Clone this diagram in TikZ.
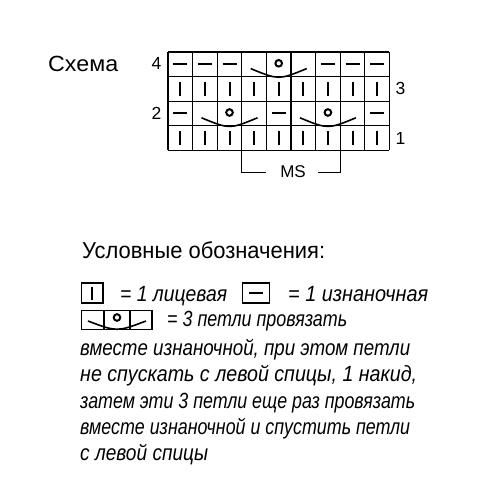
\documentclass[tikz,border=0pt]{standalone}
\usepackage{fontspec}
\setmainfont{Liberation Sans}
\newcommand\fsz[1]{\fontsize{#1}{#1}\selectfont}
\newsavebox\fitbox
\newcommand\fitto[2]{\sbox\fitbox{#2}\pgfmathsetmacro\fitratio{#1/(\wd\fitbox)}\scalebox{\fitratio}[1]{\usebox\fitbox}}
\begin{document}
\begin{tikzpicture}[x=1pt,y=-1pt,
  gridline/.style={line width=1.1pt},
  sym/.style={line width=2pt},
  arcsym/.style={line width=1.6pt},
  txt/.style={inner sep=0pt, anchor=base west},
  legtxt/.style={inner sep=0pt, anchor=base west, font=\fsz{22}\itshape},
]
\useasboundingbox (0,0) rectangle (500,500);
\fill[white] (0,0) rectangle (500,500);
\def\L{168}\def\T{52}\def\C{24.6}
% grid
\foreach \i in {0,...,9} \draw[gridline] ({\L+\i*\C},\T) -- ({\L+\i*\C},{\T+4*\C});
\foreach \j in {0,...,4} \draw[gridline] (\L,{\T+\j*\C}) -- ({\L+9*\C},{\T+\j*\C});
% bars rows 1 and 3
\foreach \r in {1,3} \foreach \i in {1,...,9}
  \draw[sym] ({\L+(\i-0.5)*\C},{\T+(\r+0.5)*\C-7}) -- ++(0,14);
% dashes row 4
\foreach \i in {1,2,3,7,8,9}
  \draw[sym] ({\L+(\i-0.5)*\C-7},{\T+0.5*\C}) -- ++(14,0);
% dashes row 2
\foreach \i in {1,5,9}
  \draw[sym] ({\L+(\i-0.5)*\C-7},{\T+2.5*\C}) -- ++(14,0);
% arcs with circles
\foreach \c/\r in {5/0,3/2,7/2}{
  \pgfmathsetmacro\xc{\L+(\c-0.5)*\C}
  \pgfmathsetmacro\yb{\T+(\r+1)*\C}
  \pgfmathsetmacro\yc{\T+(\r+0.5)*\C}
  \draw[arcsym] ({\xc-28},{\yb-8}) .. controls (\xc,{\yb+3.5}) .. ({\xc+28},{\yb-8});
  \draw[sym] (\xc,{\yc-1}) circle (3.3);
}
% labels
\node[txt, font=\fsz{22}] (schema) at (48,72) {\fitto{70}{Схема}};
\node[txt, font=\fsz{17.5}] (r4) at (151.5,70) {4};
\node[txt, font=\fsz{17.5}] (r3) at (395.5,95) {3};
\node[txt, font=\fsz{17.5}] (r2) at (151.5,119.5) {2};
\node[txt, font=\fsz{17.5}] (r1) at (395.5,144) {1};
% MS bracket
\node[inner sep=0pt, anchor=base, font=\fsz{17}] (ms) at (293,177) {MS};
\coordinate (msl) at ({\L+3*\C},{\T+4*\C});
\coordinate (msr) at ({\L+7*\C},{\T+4*\C});
\draw[line width=1.1pt] (msl) -- ++(0,22) -- (266,{\T+4*\C+22});
\draw[line width=1.1pt] (318,{\T+4*\C+22}) -- ({\L+7*\C},{\T+4*\C+22}) -- (msr);
% legend title
\node[txt, font=\fsz{23}] (title) at (82,258) {\fitto{243}{Условные обозначения:}};
% legend symbols
\draw[gridline] (81.5,283) rectangle (103,303);
\draw[sym] (92.25,286.5) -- (92.25,299.5);
\node[legtxt] (k1) at (120,301) {\fitto{107}{= 1 лицевая}};
\draw[gridline] (242.5,283) rectangle (269.5,303);
\draw[sym] (249,293) -- (263,293);
\node[legtxt] (k2) at (288,301) {\fitto{140}{= 1 изнаночная}};
\draw[gridline] (81.5,310.5) rectangle (152,329.5);
\draw[gridline] (104,310.5) -- (104,329.5);
\draw[gridline] (130,310.5) -- (130,329.5);
\draw[arcsym] (88,321) .. controls (117,332) .. (146,321);
\draw[sym] (117,317.5) circle (3.3);
\node[legtxt] (k3) at (167,326) {\fitto{180}{= 3 петли провязать}};
\node[legtxt] (l1) at (80,355) {\fitto{330}{вместе изнаночной, при этом петли}};
\node[legtxt] (l2) at (80,381.5) {\fitto{337}{не спускать с левой спицы, 1 накид,}};
\node[legtxt] (l3) at (80,408) {\fitto{335}{затем эти 3 петли еще раз провязать}};
\node[legtxt] (l4) at (80,434) {\fitto{330}{вместе изнаночной и спустить петли}};
\node[legtxt] (l5) at (80,460) {\fitto{128}{с левой спицы}};
\end{tikzpicture}
\end{document}
